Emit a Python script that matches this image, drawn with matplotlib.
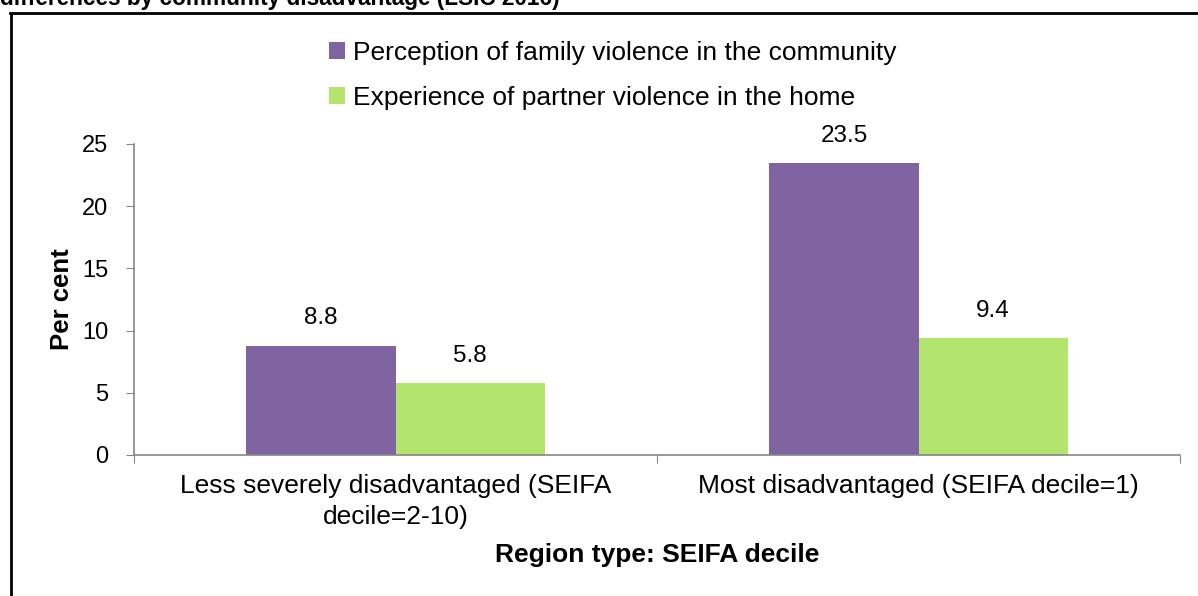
import matplotlib.pyplot as plt
from matplotlib.lines import Line2D

plt.rcParams['font.family'] = ['Liberation Sans', 'DejaVu Sans']

categories = ['Less severely disadvantaged (SEIFA\ndecile=2-10)',
              'Most disadvantaged (SEIFA decile=1)']
perception = [8.8, 23.5]
experience = [5.8, 9.4]
series_names = ['Perception of family violence in the community',
                'Experience of partner violence in the home']
colors = ['#8064A2', '#B3E56E']

fig = plt.figure(figsize=(11.98, 5.96), dpi=100)
ax = fig.add_axes([0.1119, 0.2366, 0.9850 - 0.1119, 0.7584 - 0.2366])

x = list(range(len(categories)))
w = 0.285
b1 = ax.bar([i - w / 2 for i in x], perception, w, color=colors[0], label=series_names[0])
b2 = ax.bar([i + w / 2 for i in x], experience, w, color=colors[1], label=series_names[1])

for bars, vals in ((b1, perception), (b2, experience)):
    for r, v in zip(bars, vals):
        ax.annotate(f'{v:.1f}', (r.get_x() + r.get_width() / 2, v),
                    xytext=(0, 19.5), textcoords='offset points',
                    ha='center', va='center', fontsize=17.5)

ax.set_xlim(-0.5, 1.5)
ax.set_ylim(0, 25)
ax.set_yticks([0, 5, 10, 15, 20, 25])
ax.set_xticks([-0.5, 0.5, 1.5], minor=False)
ax.set_xticklabels([])
ax.set_xticks(x, minor=True)
ax.set_xticklabels(categories, minor=True, fontsize=19, linespacing=1.33)
ax.tick_params(axis='x', which='minor', length=0, pad=14)
ax.tick_params(axis='x', which='major', length=6, color='#868686', direction='out')
ax.tick_params(axis='y', length=6, color='#868686', labelsize=17, pad=12.5)

for s in ('top', 'right'):
    ax.spines[s].set_visible(False)
for s in ('left', 'bottom'):
    ax.spines[s].set_color('#868686')
    ax.spines[s].set_linewidth(1.2)

ax.set_ylabel('Per cent', fontsize=18.5, fontweight='bold', labelpad=6)
ax.set_xlabel('Region type: SEIFA decile', fontsize=19, fontweight='bold', labelpad=10)

fig.legend(loc='upper left', bbox_to_anchor=(0.2745, 0.931), frameon=False,
           fontsize=19, handlelength=0.6, handleheight=0.6, handletextpad=0.3,
           labelspacing=0.78, borderaxespad=0, borderpad=0)

# clipped title and frame from the source document
fig.text(0.0, 1 - 4.5 / 596, 'differences by community disadvantage (LSIC 2016)',
         fontsize=16.3, fontweight='bold', va='baseline', ha='left')
fig.add_artist(Line2D([10.5 / 1198, 10.5 / 1198], [0, 1 - 12.5 / 596],
                      color='black', linewidth=2, transform=fig.transFigure))
fig.add_artist(Line2D([9.5 / 1198, 1], [1 - 12.5 / 596, 1 - 12.5 / 596],
                      color='black', linewidth=2, transform=fig.transFigure))

fig.savefig('out.png', dpi=100)
